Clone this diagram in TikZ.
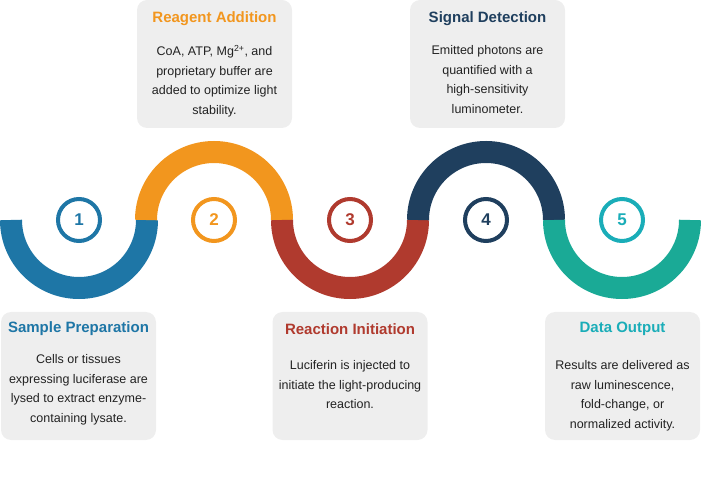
\documentclass[tikz,border=0pt]{standalone}
\usepackage{fontspec}
\setmainfont{Liberation Sans}
\definecolor{cblue}{HTML}{1E76A6}
\definecolor{corange}{HTML}{F2961E}
\definecolor{cred}{HTML}{B03A2E}
\definecolor{cnavy}{HTML}{1F3F5E}
\definecolor{cteal}{HTML}{1AAA96}
\definecolor{ccyan}{HTML}{1AADB8}
\definecolor{boxgray}{HTML}{EEEEEE}
\definecolor{txt}{HTML}{222222}
\begin{document}
\begin{tikzpicture}[x=1pt,y=1pt,
  band/.style={line width=22pt},
  ring/.style={draw=#1,line width=4pt,circle,minimum size=42pt,inner sep=0pt,text=#1,font=\fontsize{17}{20}\selectfont\bfseries},
  infobox/.style={fill=boxgray,rounded corners=10pt,minimum width=155pt,minimum height=128pt,inner sep=0pt},
  ttl/.style={font=\fontsize{15}{18}\selectfont\bfseries,text=#1},
  body/.style={font=\fontsize{12.5}{19.5}\selectfont,text=txt,align=center,anchor=north}]
\useasboundingbox (0,0) rectangle (701,501);
% bands
\draw[band,cblue] (11,281) arc (180:360:68);
\draw[band,corange] (146,281) arc (180:0:68);
\draw[band,cred] (282,281) arc (180:360:68);
\draw[band,cnavy] (418,281) arc (180:0:68);
\draw[band,cteal] (554,281) arc (180:360:68);
% rings
\node[ring=cblue] (r1) at (79,281) {1};
\node[ring=corange] (r2) at (214,281) {2};
\node[ring=cred] (r3) at (350,281) {3};
\node[ring=cnavy] (r4) at (486,281) {4};
\node[ring=ccyan] (r5) at (622,281) {5};
% boxes
\node[infobox] (b2) at (214.5,437) {};
\node[ttl=corange] (t2) at (214.5,482) {Reagent Addition};
\node[body] (x2) at (214.5,459) {CoA, ATP, Mg\textsuperscript{2+}, and\\proprietary buffer are\\added to optimize light\\stability.};
\node[infobox] (b4) at (487.5,437) {};
\node[ttl=cnavy] (t4) at (487.5,482) {Signal Detection};
\node[body] (x4) at (487.5,459) {Emitted photons are\\quantified with a\\high-sensitivity\\luminometer.};
\node[infobox] (b1) at (78.5,125) {};
\node[ttl=cblue] (t1) at (78.5,172) {Sample Preparation};
\node[body] (x1) at (78.5,150) {Cells or tissues\\expressing luciferase are\\lysed to extract enzyme-\\containing lysate.};
\node[infobox] (b3) at (350,125) {};
\node[ttl=cred] (t3) at (350,172) {Reaction Initiation};
\node[body] (x3) at (350,144) {Luciferin is injected to\\initiate the light-producing\\reaction.};
\node[infobox] (b5) at (622.5,125) {};
\node[ttl=ccyan] (t5) at (622.5,172) {Data Output};
\node[body] (x5) at (622.5,144) {Results are delivered as\\raw luminescence,\\fold-change, or\\normalized activity.};
\end{tikzpicture}
\end{document}
